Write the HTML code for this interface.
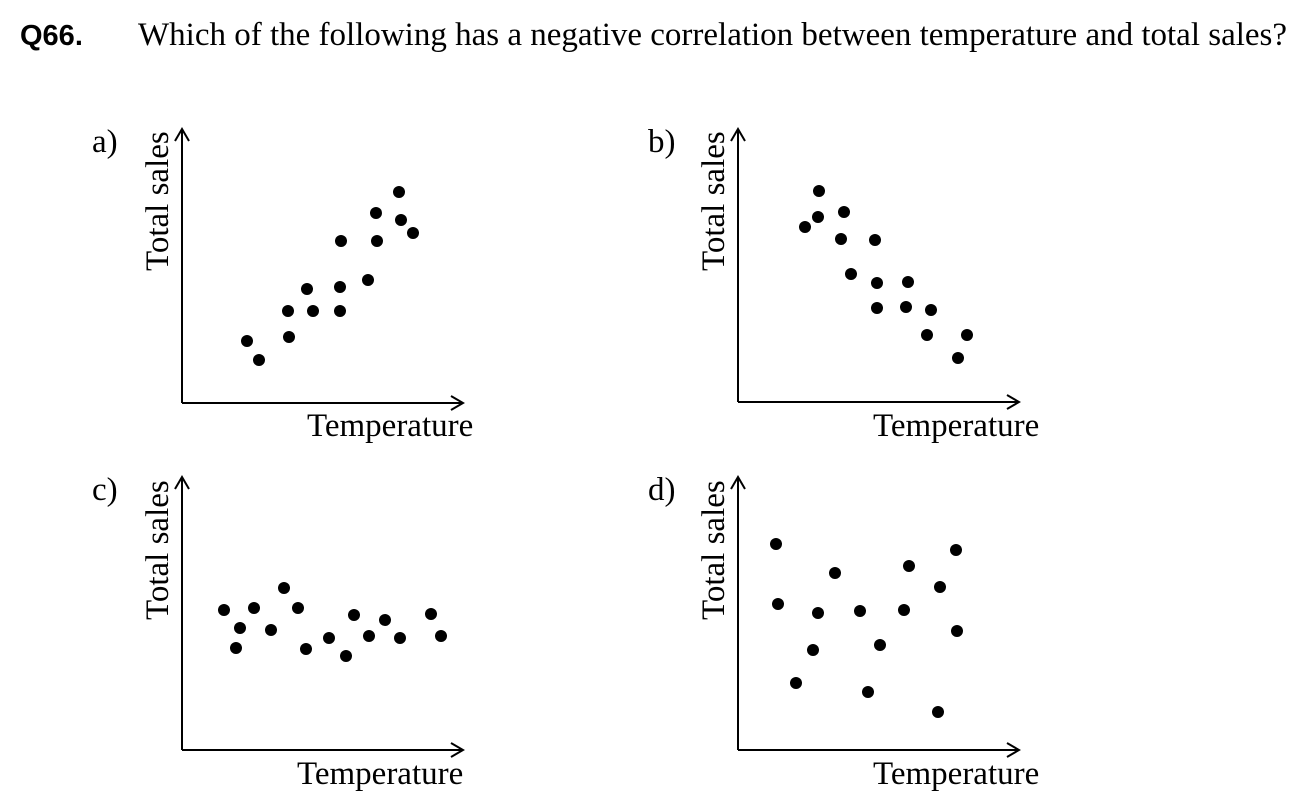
<!DOCTYPE html>
<html><head><meta charset="utf-8"><style>
html,body{margin:0;padding:0;background:#fff;}
svg{display:block;}
.s{font-family:"Liberation Serif",serif;font-size:33px;fill:#000;}
</style></head><body>
<svg width="1314" height="811" viewBox="0 0 1314 811" xmlns="http://www.w3.org/2000/svg">
<text x="20" y="45" font-family="Liberation Sans, sans-serif" font-weight="bold" font-size="29" fill="#000">Q66.</text>
<text x="138" y="45" class="s">Which of the following has a negative correlation between temperature and total sales?</text>
<g stroke="#000" stroke-width="2" fill="none">
<path d="M182,403V130M175,141L182,129L189,141M182,403H462M451,396L463,403L451,410"/>
<path d="M738,402V130M731,141L738,129L745,141M738,402H1018M1007,395L1019,402L1007,409"/>
<path d="M182,750V478M175,489L182,477L189,489M182,750H462M451,743L463,750L451,757"/>
<path d="M738,750V478M731,489L738,477L745,489M738,750H1018M1007,743L1019,750L1007,757"/>
</g>
<text x="92" y="152" class="s">a)</text>
<text x="648" y="152" class="s">b)</text>
<text x="92" y="500" class="s">c)</text>
<text x="648" y="500" class="s">d)</text>
<text class="s" transform="translate(168,271) rotate(-90)">Total sales</text>
<text class="s" transform="translate(724,271) rotate(-90)">Total sales</text>
<text class="s" transform="translate(168,620) rotate(-90)">Total sales</text>
<text class="s" transform="translate(724,620) rotate(-90)">Total sales</text>
<text x="307" y="436" class="s">Temperature</text>
<text x="873" y="436" class="s">Temperature</text>
<text x="297" y="784" class="s">Temperature</text>
<text x="873" y="784" class="s">Temperature</text>
<g fill="#000">
<circle cx="247" cy="341" r="6"/><circle cx="259" cy="360" r="6"/><circle cx="288" cy="311" r="6"/><circle cx="289" cy="337" r="6"/><circle cx="307" cy="289" r="6"/><circle cx="313" cy="311" r="6"/><circle cx="341" cy="241" r="6"/><circle cx="340" cy="287" r="6"/><circle cx="340" cy="311" r="6"/><circle cx="368" cy="280" r="6"/><circle cx="376" cy="213" r="6"/><circle cx="377" cy="241" r="6"/><circle cx="399" cy="192" r="6"/><circle cx="401" cy="220" r="6"/><circle cx="413" cy="233" r="6"/>
<circle cx="805" cy="227" r="6"/><circle cx="819" cy="191" r="6"/><circle cx="818" cy="217" r="6"/><circle cx="844" cy="212" r="6"/><circle cx="841" cy="239" r="6"/><circle cx="851" cy="274" r="6"/><circle cx="875" cy="240" r="6"/><circle cx="877" cy="283" r="6"/><circle cx="877" cy="308" r="6"/><circle cx="908" cy="282" r="6"/><circle cx="906" cy="307" r="6"/><circle cx="931" cy="310" r="6"/><circle cx="927" cy="335" r="6"/><circle cx="967" cy="335" r="6"/><circle cx="958" cy="358" r="6"/>
<circle cx="224" cy="610" r="6"/><circle cx="236" cy="648" r="6"/><circle cx="240" cy="628" r="6"/><circle cx="254" cy="608" r="6"/><circle cx="271" cy="630" r="6"/><circle cx="284" cy="588" r="6"/><circle cx="298" cy="608" r="6"/><circle cx="306" cy="649" r="6"/><circle cx="329" cy="638" r="6"/><circle cx="346" cy="656" r="6"/><circle cx="354" cy="615" r="6"/><circle cx="369" cy="636" r="6"/><circle cx="385" cy="620" r="6"/><circle cx="400" cy="638" r="6"/><circle cx="431" cy="614" r="6"/><circle cx="441" cy="636" r="6"/>
<circle cx="776" cy="544" r="6"/><circle cx="778" cy="604" r="6"/><circle cx="796" cy="683" r="6"/><circle cx="813" cy="650" r="6"/><circle cx="818" cy="613" r="6"/><circle cx="835" cy="573" r="6"/><circle cx="860" cy="611" r="6"/><circle cx="868" cy="692" r="6"/><circle cx="880" cy="645" r="6"/><circle cx="904" cy="610" r="6"/><circle cx="909" cy="566" r="6"/><circle cx="938" cy="712" r="6"/><circle cx="940" cy="587" r="6"/><circle cx="956" cy="550" r="6"/><circle cx="957" cy="631" r="6"/>
</g>
</svg>
</body></html>
